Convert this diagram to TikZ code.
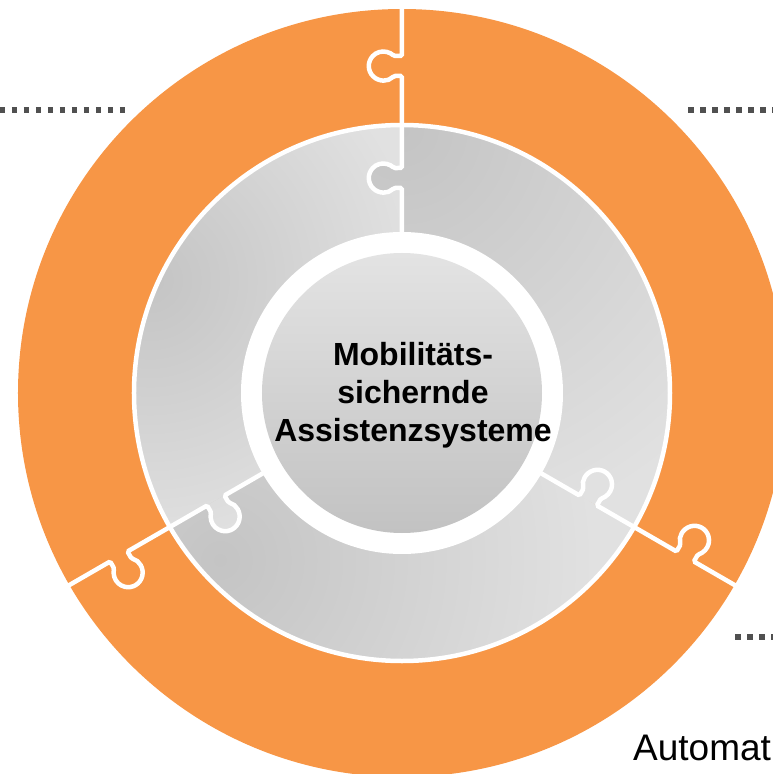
\documentclass[tikz,border=0pt]{standalone}
\usepackage{fontspec}
\setmainfont{Liberation Sans}

\definecolor{ringorange}{HTML}{F79646}
\definecolor{pieceDark}{HTML}{C4C4C4}
\definecolor{pieceLight}{HTML}{E1E1E1}
\definecolor{coreTop}{HTML}{E3E3E3}
\definecolor{coreBottom}{HTML}{C2C2C2}
\definecolor{leadgray}{HTML}{505050}

\tikzset{
  seamline/.style={white, line width=4.5pt, rounded corners=1.5pt},
  leader/.style={leadgray, line width=5.5pt, dash pattern=on 5.5pt off 6.5pt},
  coretext/.style={align=center, inner sep=0pt, font=\fontsize{32}{38}\selectfont\bfseries},
  caption/.style={anchor=base west, inner sep=0pt, font=\fontsize{37}{44}\selectfont}
}

% one puzzle seam pointing up, tabs to the left (inner ring and outer ring)
\newcommand{\seam}{(0,150) -- (0,205) -- (-8.2,205)
  arc[start angle=-43.6, end angle=-316.4, radius=14.5] -- (0,225) -- (0,317) -- (-8.2,317)
  arc[start angle=-43.6, end angle=-316.4, radius=14.5] -- (0,337) -- (0,395)}
% the tab of the inner ring on its own
\newcommand{\tab}{(0,205) -- (-8.2,205)
  arc[start angle=-43.6, end angle=-316.4, radius=14.5] -- (0,225) -- cycle}
% light grey everywhere, darker towards one spot
\newcommand{\pieceshade}[3]{%
  \fill[pieceLight] (-402,-381) rectangle (371,393);
  \shade[inner color=pieceDark, outer color=pieceLight] (#1,#2) circle (#3);}

\begin{document}
\begin{tikzpicture}[x=1pt,y=1pt]
  \path[use as bounding box] (-402,-381) rectangle (371,393);
  \clip (-402,-381) rectangle (371,393);

  % outer ring
  \fill[ringorange] (0,0) circle (384);

  % grey pieces: start angle / dark spot / shading radius
  \foreach \a/\px/\py/\rr in {-30/0/263/420, 90/-252/113/270, 210/-182/-167/375}{
    \begin{scope}
      \clip (0,0) -- (\a:268) arc[start angle=\a, delta angle=120, radius=268] -- cycle;
      \pieceshade{\px}{\py}{\rr}
    \end{scope}
  }
  % the tabs belong to the piece on their right
  \foreach \a/\px/\py/\rr in {-30/0/263/420, 90/-252/113/270, 210/-182/-167/375}{
    \begin{scope}
      \clip[rotate=\a+30] \tab;
      \pieceshade{\px}{\py}{\rr}
    \end{scope}
  }

  % white seams
  \draw[white, line width=4.5pt] (0,0) circle (268);
  \foreach \t in {90,210,330}
    \draw[seamline, rotate=\t-90] \seam;

  % centre disc
  \fill[white] (0,0) circle (161);
  \shade[top color=coreTop, bottom color=coreBottom] (0,0) circle (140);

  \node[coretext] (core) at (11,-2) {Mobilitäts-\\sichernde\\Assistenzsysteme};
  \node[caption] (automat) at (231,-367) {Automat};

  % leader lines
  \coordinate (leadA) at (-402,283);
  \coordinate (leadAend) at (-277,283);
  \coordinate (leadB) at (286,283);
  \coordinate (leadBend) at (380,283);
  \coordinate (leadC) at (333,-244);
  \coordinate (leadCend) at (380,-244);
  \draw[leader] (leadA) -- (leadAend);
  \draw[leader] (leadB) -- (leadBend);
  \draw[leader] (leadC) -- (leadCend);
\end{tikzpicture}
\end{document}
